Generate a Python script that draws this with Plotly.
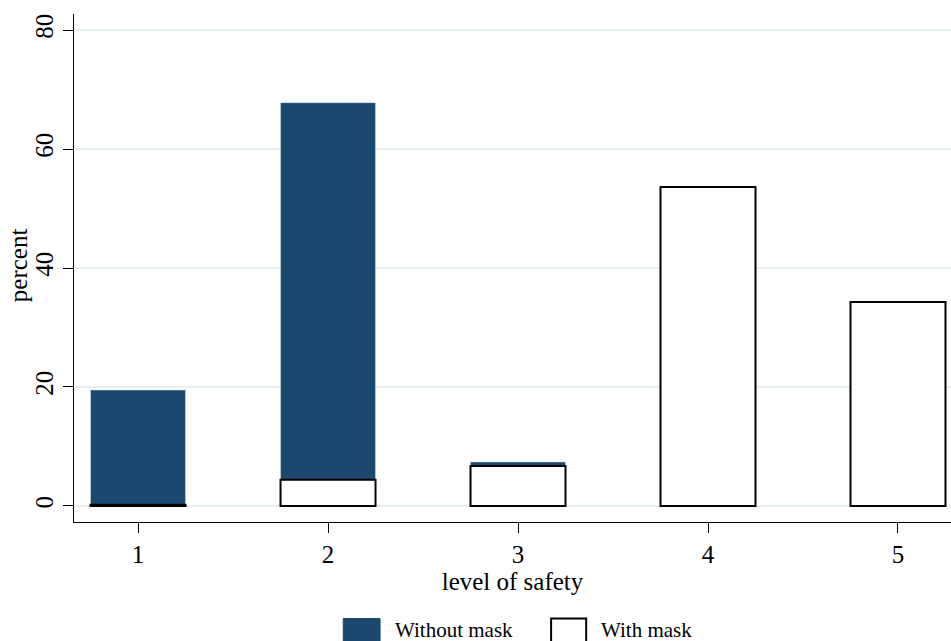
import plotly.graph_objects as go

levels = [1, 2, 3, 4, 5]
without_mask = [19.5, 67.8, 7.4, 0, 0]
with_mask = [0.2, 4.4, 6.7, 53.6, 34.3]
series_names = ["Without mask", "With mask"]
navy = "#1c4870"
font_family = "Liberation Serif, Times New Roman, serif"

fig = go.Figure()
fig.add_trace(go.Bar(x=levels, y=without_mask, name=series_names[0], width=0.5,
                     marker=dict(color=navy, line=dict(color="#d5dfe8", width=0.6)),
                     showlegend=False))
fig.add_trace(go.Bar(x=levels, y=with_mask, name=series_names[1], width=0.5,
                     marker=dict(color="white", line=dict(color="black", width=2)),
                     showlegend=False))

# legend keys (drawn below plot area); plot area spans 74..951 x 14..522 px
fig.add_shape(type="rect", xref="paper", yref="paper", x0=0.307, x1=0.349, y0=-0.19, y1=-0.26,
              fillcolor=navy, line=dict(color=navy, width=1))
fig.add_shape(type="rect", xref="paper", yref="paper", x0=0.544, x1=0.584, y0=-0.19, y1=-0.26,
              fillcolor="white", line=dict(color="black", width=2))
fig.add_annotation(xref="paper", yref="paper", x=0.364, y=-0.212, text=series_names[0],
                   showarrow=False, xanchor="left", yanchor="middle",
                   font=dict(family=font_family, size=21, color="black"))
fig.add_annotation(xref="paper", yref="paper", x=0.599, y=-0.212, text=series_names[1],
                   showarrow=False, xanchor="left", yanchor="middle",
                   font=dict(family=font_family, size=21, color="black"))
# y-axis title
fig.add_annotation(xref="paper", yref="paper", x=-0.063, y=0.505, text="percent",
                   textangle=-90, showarrow=False, xanchor="center", yanchor="middle",
                   font=dict(family=font_family, size=25, color="black"))

fig.update_layout(
    width=951, height=641,
    barmode="overlay",
    plot_bgcolor="white", paper_bgcolor="white",
    margin=dict(l=74, r=0, t=14, b=119),
    font=dict(family=font_family, size=25, color="black"),
    xaxis=dict(range=[0.663, 5.279], tickvals=levels, ticktext=[str(v) for v in levels],
               showline=True, linecolor="black", linewidth=1, ticks="outside", ticklen=10,
               tickcolor="black", showgrid=False, zeroline=False,
               title=dict(text="level of safety", standoff=2, font=dict(size=25)),
               tickfont=dict(size=25), automargin=False),
    yaxis=dict(range=[-2.7, 82.7], tickvals=[0, 20, 40, 60, 80], tickangle=-90,
               showline=True, linecolor="black", linewidth=1, ticks="outside", ticklen=10,
               tickcolor="black", showgrid=True, gridcolor="#e6eff1", gridwidth=1.5,
               zeroline=False, tickfont=dict(size=25), automargin=False),
)

fig.write_html("out.html", config={"displayModeBar": False},
               post_script="document.body.style.margin='0';")
